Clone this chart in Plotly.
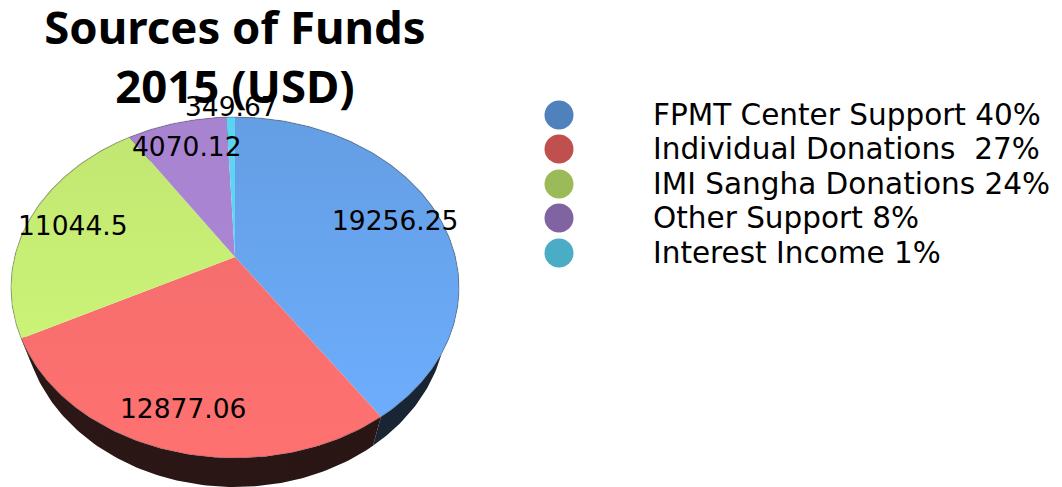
import numpy as np
import plotly.graph_objects as go

categories = ["FPMT Center Support", "Individual Donations", "IMI Sangha Donations", "Other Support", "Interest Income"]
values = [19256.25, 12877.06, 11044.5, 4070.12, 349.67]
value_labels = ["19256.25", "12877.06", "11044.5", "4070.12", "349.67"]
legend_labels = ["FPMT Center Support 40%", "Individual Donations  27%", "IMI Sangha Donations 24%",
                 "Other Support 8%", "Interest Income 1%"]
legend_colors = ["#4f81bd", "#c0504d", "#9bbb59", "#8064a2", "#4bacc6"]
top_colors = [("#649ee3", "#6dadfd"), ("#f56e6d", "#ff7171"), ("#c2e772", "#cbf377"),
              ("#a883d0", "#a985d3"), ("#5cd3f0", "#60d7f5")]
side_colors = [("#1a2836", "#182433"), ("#2a1716", "#281514"), ("#3a4220", "#2c3218"),
               ("#30263e", "#30263e"), ("#1c404a", "#1c404a")]

# label anchors, in plot units around the pie's centre
label_x = [160, -52, -162, -48, -4]
label_y = [37, -151, 32, 111, 151]
legend_y = [142, 108, 73, 39, 4]
LEGEND_MARK_X, LEGEND_TEXT_X = 324, 416

# projection of the tilted disc
A, B, K, DEPTH, BASE_SCALE = 220.4, 165.0, 0.179, 29.0, 0.945


def rim(frac_a, frac_b):
    n = max(3, int(abs(frac_b - frac_a) * 360) + 2)
    t = np.linspace(frac_a, frac_b, n) * 2 * np.pi
    u, v = np.sin(t), np.cos(t)
    d = 1 + K * v
    return A * u / d, B * v / d


edges = np.concatenate([[0], np.cumsum(values) / np.sum(values)])
fig = go.Figure()

for i in range(len(values)):
    x, y = rim(edges[i], edges[i + 1])
    fig.add_trace(go.Scatter(
        x=np.r_[x, x[::-1] * BASE_SCALE, x[0]], y=np.r_[y, y[::-1] - DEPTH, y[0]],
        mode="lines", line=dict(width=0), fill="toself", hoverinfo="skip",
        fillgradient=dict(type="horizontal",
                          colorscale=[[0, side_colors[i][0]], [1, side_colors[i][1]]])))

for i in range(len(values)):
    x, y = rim(edges[i], edges[i + 1])
    fig.add_trace(go.Scatter(
        x=np.r_[0, x, 0], y=np.r_[0, y, 0],
        mode="lines", line=dict(width=0), fill="toself", name=categories[i],
        fillgradient=dict(type="vertical",
                          colorscale=[[0, top_colors[i][1]], [1, top_colors[i][0]]])))
    # thin bevel on the outer edge
    fig.add_trace(go.Scatter(x=x, y=y, mode="lines", hoverinfo="skip",
                             line=dict(width=1.2, color="rgba(60,60,60,0.28)")))

fig.add_trace(go.Scatter(
    x=[LEGEND_MARK_X] * 5, y=legend_y, mode="markers", hoverinfo="skip",
    marker=dict(size=29, color=legend_colors, line=dict(width=0))))

anns = []
for lx, ly, t in zip(label_x, label_y, value_labels):
    anns.append(dict(x=lx, y=ly, text=t, showarrow=False, xanchor="center", yanchor="middle",
                     font=dict(family="DejaVu Sans", size=26.5, color="#000000")))
for ly, t in zip(legend_y, legend_labels):
    anns.append(dict(x=LEGEND_TEXT_X, y=ly, text=t.replace("  ", "&nbsp; "), showarrow=False,
                     xanchor="left", yanchor="middle",
                     font=dict(family="DejaVu Sans", size=29.5, color="#000000")))

fig.update_layout(
    width=1062, height=487, margin=dict(l=0, r=0, t=0, b=0),
    paper_bgcolor="#ffffff", plot_bgcolor="#ffffff", showlegend=False,
    title=dict(text="Sources of Funds<br>2015 (USD)", x=235 / 1062, xanchor="center",
               y=0.91, yanchor="top", font=dict(family="Noto Sans", size=45.5, color="#000000", weight="bold")),
    xaxis=dict(range=[-235, 827], visible=False, fixedrange=True),
    yaxis=dict(range=[-230, 257], visible=False, fixedrange=True),
    annotations=anns,
)
fig.write_html("out.html", config={"displayModeBar": False},
               post_script="document.body.style.margin='0';document.documentElement.style.overflow='hidden';")
